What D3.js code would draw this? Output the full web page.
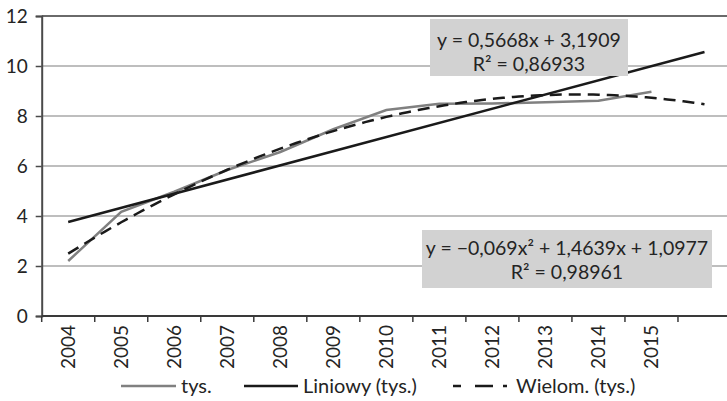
<!DOCTYPE html>
<html>
<head>
<meta charset="utf-8">
<script src="https://cdn.jsdelivr.net/npm/d3@7/dist/d3.min.js"></script>
<style>
  html, body { margin: 0; padding: 0; background: #fff; }
  svg { display: block; }
  text { font-family: Lato, "Open Sans", sans-serif; fill: #242424; }
</style>
</head>
<body>
<svg id="chart" width="727" height="401"></svg>
<script>
// Years on the category axis (one extra, unlabeled slot for the forecast)
const years = ["2004", "2005", "2006", "2007", "2008", "2009", "2010", "2011", "2012", "2013", "2014", "2015", ""];
// Series "tys." values per year
const tys = [2.2, 4.17, 4.97, 5.84, 6.56, 7.47, 8.24, 8.49, 8.5, 8.55, 8.61, 8.97];
// Trendline coefficients as printed in the equation labels
const linearCoef = [0.5668, 3.1909];          // y = a·x + b
const polyCoef = [-0.069, 1.4639, 1.0977];    // y = a·x² + b·x + c
const linearLabel = ["y = 0,5668x + 3,1909", "R² = 0,86933"];
const polyLabel = ["y = −0,069x² + 1,4639x + 1,0977", "R² = 0,98961"];
const yTicks = [0, 2, 4, 6, 8, 10, 12];
const legendNames = ["tys.", "Liniowy (tys.)", "Wielom. (tys.)"];

const svg = d3.select("#chart");
const plotLeft = 41.7, plotRight = 731, plotTop = 16, plotBottom = 316;

const x = d3.scaleBand().domain(d3.range(years.length)).range([plotLeft, plotRight]);
const y = d3.scaleLinear().domain([0, 12]).range([plotBottom, plotTop]);
// Continuous position along the category axis: category number t (1-based) → pixel at its centre
const xPos = d3.scaleLinear().domain([1, 2]).range([x(0) + x.bandwidth() / 2, x(1) + x.bandwidth() / 2]);

// Horizontal gridlines
svg.append("g").selectAll("line").data(yTicks.filter(d => d > 0)).join("line")
  .attr("x1", plotLeft).attr("x2", 727)
  .attr("y1", d => y(d)).attr("y2", d => y(d))
  .attr("stroke", d => d === 12 ? "#6a6a6a" : "#a8a8a8")
  .attr("stroke-width", d => d === 12 ? 2 : 1.5);

// Y axis
const yAxis = svg.append("g").attr("transform", `translate(${plotLeft},0)`)
  .call(d3.axisLeft(y).tickValues(yTicks).tickSize(6).tickPadding(8));
yAxis.select(".domain").attr("stroke", "#4a4a4a").attr("stroke-width", 2);
yAxis.selectAll(".tick line").attr("stroke", "#4a4a4a").attr("stroke-width", 1.5);
yAxis.selectAll("text").attr("font-size", 19).attr("fill", "#242424")
  .attr("font-family", "Lato, 'Open Sans', sans-serif");

// X axis line and tick marks at category boundaries
svg.append("line").attr("x1", plotLeft).attr("x2", 727)
  .attr("y1", plotBottom).attr("y2", plotBottom)
  .attr("stroke", "#3a3a3a").attr("stroke-width", 2);
svg.append("g").selectAll("line").data(d3.range(years.length + 1)).join("line")
  .attr("x1", i => plotLeft + i * x.step()).attr("x2", i => plotLeft + i * x.step())
  .attr("y1", plotBottom).attr("y2", plotBottom + 6)
  .attr("stroke", "#3a3a3a").attr("stroke-width", 1.5);

// Rotated year labels
svg.append("g").selectAll("text").data(years).join("text")
  .attr("transform", (d, i) => `translate(${x(i) + x.bandwidth() / 2 + 7},${plotBottom + 9}) rotate(-90)`)
  .attr("text-anchor", "end")
  .attr("font-size", 19)
  .text(d => d);

// Series line
const line = d3.line().x(d => xPos(d[0])).y(d => y(d[1]));
svg.append("path")
  .datum(tys.map((v, i) => [i + 1, v]))
  .attr("d", line)
  .attr("fill", "none").attr("stroke", "#808080").attr("stroke-width", 2.5);

// Trendlines over x = 1..13
const linPts = [1, years.length].map(t => [t, linearCoef[0] * t + linearCoef[1]]);
svg.append("path").datum(linPts).attr("d", line)
  .attr("fill", "none").attr("stroke", "#1a1a1a").attr("stroke-width", 2.5);

const xs = d3.range(1, years.length + 0.001, 0.1);
const polyPts = xs.map(t => [t, polyCoef[0] * t * t + polyCoef[1] * t + polyCoef[2]]);
svg.append("path").datum(polyPts).attr("d", line)
  .attr("fill", "none").attr("stroke", "#1a1a1a").attr("stroke-width", 2.5)
  .attr("stroke-dasharray", "12,7");

// Equation labels
function eqBox(x0, y0, w, h, lines, cxp, base1) {
  svg.append("rect").attr("x", x0).attr("y", y0).attr("width", w).attr("height", h)
    .attr("fill", "#d2d2d2");
  lines.forEach((s, k) => {
    svg.append("text").attr("text-anchor", "middle").attr("font-size", 19.5)
      .attr("x", cxp).attr("y", base1 + k * 23.5).text(s);
  });
}
eqBox(430, 19, 198, 57, linearLabel, 529, 47);
eqBox(422, 230, 290, 58, polyLabel, 567, 255);

// Legend
const lg = svg.append("g");
const legendItems = [
  { x1: 121, x2: 176, tx: 181, stroke: "#808080", dash: null },
  { x1: 244, x2: 298, tx: 303, stroke: "#1a1a1a", dash: null },
  { x1: 453, x2: 507, tx: 516, stroke: "#1a1a1a", dash: "8,14,18,10,4" }
];
legendItems.forEach((it, i) => {
  lg.append("line").attr("x1", it.x1).attr("x2", it.x2).attr("y1", 386).attr("y2", 386)
    .attr("stroke", it.stroke).attr("stroke-width", 2.5)
    .attr("stroke-dasharray", it.dash);
  lg.append("text").attr("x", it.tx).attr("y", 393).attr("font-size", 20).text(legendNames[i]);
});
</script>
</body>
</html>
